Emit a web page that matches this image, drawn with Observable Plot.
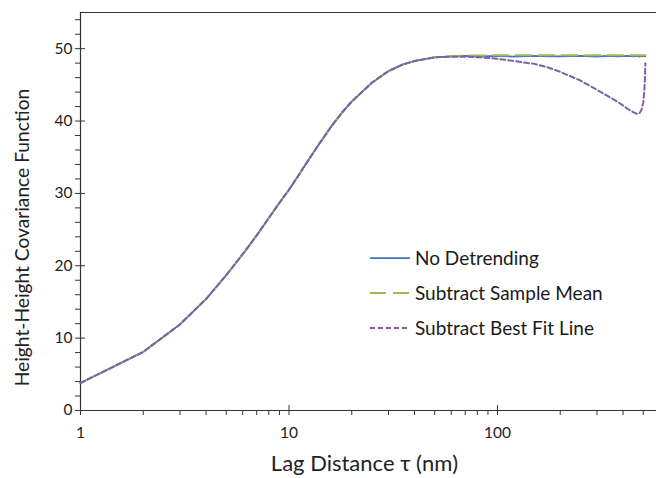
<!DOCTYPE html>
<html><head><meta charset="utf-8">
<script src="https://cdn.jsdelivr.net/npm/d3@7"></script>
<script src="https://cdn.jsdelivr.net/npm/@observablehq/plot@0.6"></script>
<style>
body{margin:0;background:#fff;}
#wrap{position:relative;width:656px;height:478px;font-family:Lato,sans-serif;}
#legend{position:absolute;left:370px;top:240px;font-size:19px;color:#1a1a1a;}
.row{display:flex;align-items:center;height:35px;}
.row svg{width:40px;height:10px;margin-right:5px;display:block}
</style></head><body><div id="wrap"><div id="chart"></div><div id="legend"></div></div>
<script>
const lags =         [1,  2,  3,   4,   5,   6,   7,   8,   9,   10,  11,  12,  14,  16,  18,  20,  25,  30,  35,  40,  50,  60,   70,   83,   100,  120,  150,  175,  200,  250,  300,  340,  380,  420,  450,  465,  480,  490,  500,  505,  510,  512];
const noDetrending = [3.8,8.1,11.9,15.4,18.7,21.6,24.2,26.6,28.7,30.5,32.3,34.0,36.9,39.3,41.2,42.7,45.3,46.9,47.8,48.3,48.8,48.95,49.0, 48.95,49.0, 48.9, 49.0, 48.95,48.95,49.0, 48.9, 49.0, 48.95,49.0, 48.95,49.0, 48.9, 49.0, 48.95,49.0, 48.95,48.95];
const sampleMean =   [3.8,8.1,11.9,15.4,18.7,21.6,24.2,26.6,28.7,30.5,32.3,34.0,36.9,39.3,41.2,42.7,45.3,46.9,47.8,48.3,48.8,48.95,49.05,49.05,49.1, 49.1, 49.1, 49.1, 49.1, 49.1, 49.1, 49.1, 49.1, 49.1, 49.1, 49.1, 49.1, 49.1, 49.1, 49.1, 49.1, 49.1];
const bestFitLine =  [3.8,8.1,11.9,15.4,18.7,21.6,24.2,26.6,28.7,30.5,32.3,34.0,36.9,39.3,41.2,42.7,45.3,46.9,47.8,48.3,48.8,48.9, 48.9, 48.8, 48.6, 48.3, 47.9, 47.4, 46.8, 45.6, 44.3, 43.4, 42.6, 41.7, 41.2, 41.0, 41.1, 41.5, 42.5, 43.8, 46.0, 48.0];

const seriesNames = ["No Detrending", "Subtract Sample Mean", "Subtract Best Fit Line"];
const seriesColors = ["#4472C4", "#9BBB59", "#7F60A8"];
const seriesDash = [null, "16,7", "5,3"];
const seriesWidth = [1.75, 2, 2];
const seriesValues = [noDetrending, sampleMean, bestFitLine];

const yMajor = [0, 10, 20, 30, 40, 50];
const yMinor = [2,4,6,8,12,14,16,18,22,24,26,28,32,34,36,38,42,44,46,48,52,54];
const xMajor = [1, 10, 100];
const xMinor = [2,3,4,5,6,7,8,9,20,30,40,50,60,70,80,90,200,300,400,500];

const axisColor = "#333";
const textColor = "#222";

const lineMarks = seriesValues.map((vals, s) =>
  Plot.line(lags.map((x, i) => ({x, y: vals[i]})), {
    x: "x", y: "y", stroke: seriesColors[s], strokeWidth: seriesWidth[s],
    strokeDasharray: seriesDash[s] || undefined
  })
);

const chart = Plot.plot({
  width: 656, height: 478,
  marginLeft: 80, marginRight: 0, marginTop: 12, marginBottom: 68,
  style: {fontFamily: "Lato, sans-serif", color: textColor, background: "#fff"},
  x: {type: "log", domain: [1, 579]},
  y: {domain: [0, 55]},
  marks: [
    Plot.axisY({ticks: yMajor, tickSize: 10, dx: 5, text: null, label: null, stroke: axisColor}),
    Plot.axisY({ticks: yMinor, tickSize: 5, text: null, label: null, stroke: axisColor}),
    Plot.axisY({ticks: yMajor, tickSize: 0, tickPadding: 8, fontSize: 15.5, label: null, tickFormat: d => d}),
    Plot.axisX({ticks: xMajor, tickSize: 10, dy: -5, text: null, label: null, stroke: axisColor}),
    Plot.axisX({ticks: xMinor, tickSize: 5, text: null, label: null, stroke: axisColor}),
    Plot.axisX({ticks: xMajor, tickSize: 0, tickPadding: 16, fontSize: 15.5, label: null, tickFormat: d => d}),
    Plot.ruleX([1], {stroke: axisColor, strokeWidth: 1.2}),
    Plot.ruleY([0], {stroke: axisColor, strokeWidth: 1.2}),
    Plot.ruleY([55], {stroke: axisColor, strokeWidth: 1.2}),
    ...lineMarks,
    Plot.text(["Height-Height Covariance Function"], {frameAnchor: "left", textAnchor: "middle", dx: -58, dy: 26, rotate: -90, fontSize: 19.2, fill: textColor}),
    Plot.text(["Lag Distance τ (nm)"], {frameAnchor: "bottom", textAnchor: "middle", dx: -4, dy: 60, fontSize: 22, fill: textColor})
  ]
});
document.getElementById("chart").appendChild(chart);

const legend = document.getElementById("legend");
seriesNames.forEach((name, s) => {
  const row = document.createElement("div");
  row.className = "row";
  row.innerHTML = `<svg viewBox="0 0 40 10"><line x1="0" y1="5" x2="40" y2="5" stroke="${seriesColors[s]}" stroke-width="${seriesWidth[s]}" ${seriesDash[s] ? `stroke-dasharray="${seriesDash[s]}"` : ""}/></svg><span>${name}</span>`;
  legend.appendChild(row);
});
</script></body></html>
